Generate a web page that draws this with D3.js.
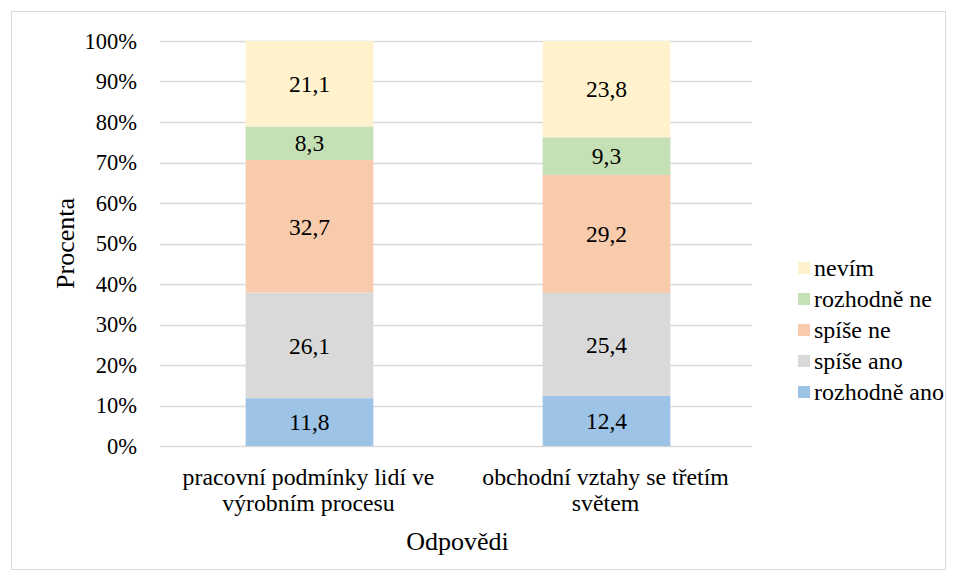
<!DOCTYPE html>
<html>
<head>
<meta charset="utf-8">
<script src="https://cdn.jsdelivr.net/npm/d3@7"></script>
<style>
  html, body { margin: 0; padding: 0; background: #fff; }
  svg text { font-family: "Liberation Serif", Tinos, "Times New Roman", "DejaVu Serif", serif; fill: #000; }
</style>
</head>
<body>
<svg id="chart" width="957" height="580"></svg>
<script>
// Response categories (x axis), wrapped into lines
const categories = ["pracovní podmínky lidí ve výrobním procesu", "obchodní vztahy se třetím světem"];
const categoryLines = [["pracovní podmínky lidí ve", "výrobním procesu"], ["obchodní vztahy se třetím", "světem"]];

// Series, bottom to top
const seriesNames = ["rozhodně ano", "spíše ano", "spíše ne", "rozhodně ne", "nevím"];
const rozhodneAno = [11.8, 12.4];
const spiseAno = [26.1, 25.4];
const spiseNe = [32.7, 29.2];
const rozhodneNe = [8.3, 9.3];
const nevim = [21.1, 23.8];

const yTicks = [0, 0.1, 0.2, 0.3, 0.4, 0.5, 0.6, 0.7, 0.8, 0.9, 1.0];
const colors = ["#9DC3E6", "#D9D9D9", "#F8CBAD", "#C5E0B4", "#FFF2CC"];

const seriesValues = [rozhodneAno, spiseAno, spiseNe, rozhodneNe, nevim];
const table = categories.map((c, i) => {
  const row = { category: c };
  seriesNames.forEach((s, k) => { row[s] = seriesValues[k][i]; });
  return row;
});

const FONT = '"Liberation Serif", Tinos, "Times New Roman", "DejaVu Serif", serif';
const svg = d3.select("#chart");
const W = 957, H = 580;
const plot = { left: 160, right: 752, top: 41, bottom: 446 };

// outer chart border
svg.append("rect")
  .attr("x", 11.5).attr("y", 11.5)
  .attr("width", W - 23).attr("height", H - 22)
  .attr("fill", "#fff").attr("stroke", "#D9D9D9").attr("stroke-width", 1);

const x = d3.scaleBand().domain(categories).range([161, 755]).paddingInner(0.57).paddingOuter(0.285);
const y = d3.scaleLinear().domain([0, 1]).range([plot.bottom, plot.top]);

// gridlines
svg.append("g").selectAll("line").data(yTicks).join("line")
  .attr("x1", plot.left).attr("x2", plot.right)
  .attr("y1", d => Math.round(y(d)) + 0.5).attr("y2", d => Math.round(y(d)) + 0.5)
  .attr("stroke", "#D9D9D9").attr("stroke-width", 1.3);

// y axis labels
const yAxis = d3.axisLeft(y).tickValues(yTicks).tickFormat(d => Math.round(d * 100) + "%").tickSize(0).tickPadding(0);
const yg = svg.append("g").attr("transform", `translate(137,0)`).call(yAxis);
yg.attr("font-family", FONT).attr("font-size", 22.5);
yg.select(".domain").remove();
yg.selectAll("text").attr("fill", "#000");

const stack = d3.stack().keys(seriesNames).offset(d3.stackOffsetExpand);
const layers = stack(table);

const fmt = v => v.toFixed(1).replace(".", ",");

const lg = svg.append("g");
layers.forEach((layer, k) => {
  const g = lg.append("g");
  g.selectAll("rect").data(layer).join("rect")
    .attr("x", d => x(d.data.category))
    .attr("width", x.bandwidth())
    .attr("y", d => y(d[1]))
    .attr("height", d => y(d[0]) - y(d[1]))
    .attr("fill", colors[k]);
  g.selectAll("text").data(layer).join("text")
    .attr("x", d => x(d.data.category) + x.bandwidth() / 2)
    .attr("y", d => (y(d[0]) + y(d[1])) / 2)
    .attr("dy", "0.35em")
    .attr("text-anchor", "middle")
    .attr("font-size", 23.5)
    .text(d => fmt(d.data[layer.key]));
});

// category labels
categories.forEach((c, i) => {
  const t = svg.append("text")
    .attr("x", x(c) + x.bandwidth() / 2)
    .attr("text-anchor", "middle")
    .attr("font-size", 23.8);
  categoryLines[i].forEach((line, j) => {
    t.append("tspan").attr("x", x(c) + x.bandwidth() / 2 - 1).attr("y", 485 + j * 25.5).text(line);
  });
});

// axis titles
svg.append("text")
  .attr("x", 457.5).attr("y", 550)
  .attr("text-anchor", "middle").attr("font-size", 26).text("Odpovědi");
svg.append("text")
  .attr("transform", `translate(74,${(plot.top + plot.bottom) / 2}) rotate(-90)`)
  .attr("text-anchor", "middle").attr("font-size", 26).text("Procenta");

// legend (top entry is the top stack layer)
const legendOrder = seriesNames.map((s, k) => ({ name: s, color: colors[k] })).reverse();
const leg = svg.append("g");
legendOrder.forEach((d, i) => {
  const yy = 268 + i * 31;
  leg.append("rect").attr("x", 798).attr("y", yy - 6).attr("width", 12).attr("height", 12).attr("fill", d.color);
  leg.append("text").attr("x", 814).attr("y", yy).attr("dy", "0.35em").attr("font-size", 24).text(d.name);
});
</script>
</body>
</html>
